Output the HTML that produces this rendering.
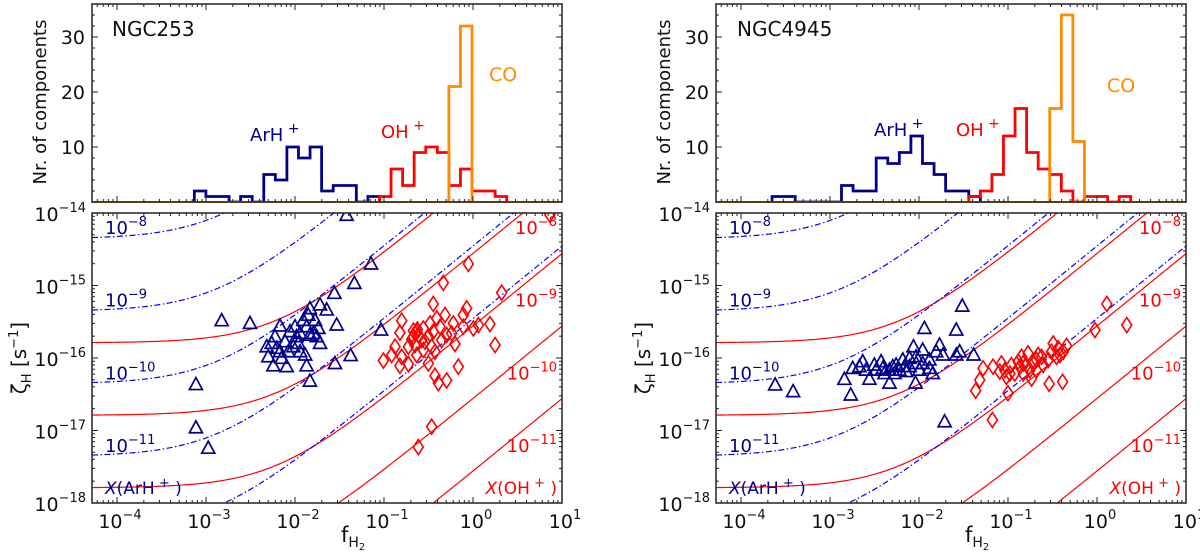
<!DOCTYPE html>
<html><head><meta charset="utf-8"><style>
html,body{margin:0;padding:0;background:#fff;overflow:hidden;width:1200px;height:556px;}
svg{display:block;font-family:"DejaVu Sans","Liberation Sans",sans-serif;}
</style></head><body>
<svg id="fig" width="1200" height="556" viewBox="0 0 1200 556" xmlns="http://www.w3.org/2000/svg"></svg>
<script>
// ---------- data ----------
const binWidth = 0.13; // dex
// NGC253 histograms (start = log10 fH2 of first bin edge)
const hA_blueStart = -3.131;
const hA_blue = [2,1,1,0,1,0,5,4,10,8,10,2,3,3,0,1];
const hA_redStart = -1.051;
const hA_red = [1,6,3,9,10,9,3,6,2,2,1];
const hA_orangeStart = -0.271;
const hA_orange = [21,32];
// NGC4945 histograms
const hB_blueStart = -3.651;
const hB_blue = [1,1,0,0,0,0,3,2,2,8,7,9,12,7,5,2,2,1];
const hB_redStart = -1.441;
const hB_red = [1,2,5,12,17,9,6,5,2,0,1,1,0,1];
const hB_orangeStart = -0.531;
const hB_orange = [17,34,11];

// model curves: zeta = X*(a + b*f)
const curveX = [1e-8,1e-9,1e-10,1e-11,1e-12];
const ohA = 1.62e-8, ohB = 2.75e-6;
const arA = 4.4e-7, arB = 3.5e-4;

// NGC253 ArH+ points
const sA_arF = [0.038,0.0714,0.0465,0.0277,0.0015,0.00312,0.00077,0.00077,0.00106,0.0925,0.0422,0.0281,0.0147,0.0135,0.0130,0.00806,0.00571,0.00501,0.00481,0.00596,0.00678,0.00879,0.0100,0.0114,0.0109,0.00841,0.00678,0.00622,0.0294,0.0191,0.0227,0.0147,0.0141,0.0168,0.0183,0.0161,0.0147,0.0135,0.0124,0.0191,0.0175,0.0104,0.00772,0.00958,0.0114,0.00547,0.00708];
const sA_arZ = [9.3e-15,1.98e-15,1.07e-15,7.8e-16,3.27e-16,3.0e-16,4.3e-17,1.09e-17,5.7e-18,2.43e-16,1.08e-16,8.4e-17,4.8e-17,7.8e-17,1.10e-16,7.6e-17,7.8e-17,1.04e-16,1.43e-16,1.97e-16,2.76e-16,2.31e-16,2.70e-16,2.19e-16,1.59e-16,1.22e-16,1.22e-16,1.36e-16,2.85e-16,5.4e-16,4.6e-16,4.8e-16,3.9e-16,3.3e-16,2.56e-16,2.19e-16,2.07e-16,2.70e-16,3.3e-16,1.59e-16,1.97e-16,1.97e-16,1.68e-16,1.43e-16,1.22e-16,1.59e-16,9.9e-17];
// NGC253 OH+ points
const sA_ohF = [0.887,0.464,2.10,0.358,0.158,0.151,0.233,0.214,0.849,0.778,0.485,0.391,0.601,0.329,0.277,0.358,0.426,0.506,0.315,0.265,0.223,0.188,0.133,0.122,0.0984,0.158,0.151,0.188,0.233,0.277,0.343,0.374,0.315,0.628,0.684,0.374,0.408,0.506,0.343,0.243,1.01,1.15,1.55,1.77,0.778,0.289,0.445,0.575,0.205,0.243,0.223,0.237,0.214,7.3];
const sA_ohZ = [1.98e-15,1.09e-15,7.96e-16,5.56e-16,3.27e-16,2.23e-16,2.31e-16,1.97e-16,4.84e-16,3.92e-16,3.92e-16,3.52e-16,3.0e-16,3.0e-16,2.56e-16,2.31e-16,2.70e-16,2.07e-16,1.97e-16,1.77e-16,1.51e-16,1.43e-16,1.43e-16,1.10e-16,9.2e-17,1.04e-16,7.8e-17,8.2e-17,1.10e-16,1.29e-16,1.43e-16,1.22e-16,8.4e-17,1.56e-16,7.6e-17,5.7e-17,4.5e-17,4.9e-17,1.13e-17,5.9e-18,2.56e-16,2.85e-16,2.94e-16,1.51e-16,2.70e-16,1.68e-16,1.77e-16,2.19e-16,1.81e-16,2.07e-16,2.19e-16,2.48e-16,2.38e-16,9.5e-15];
// NGC4945 ArH+ points
const sB_arF = [2.42e-4,3.85e-4,1.71e-3,1.45e-3,1.80e-3,2.33e-3,2.77e-3,4.66e-3,3.75e-3,3.15e-3,5.53e-3,6.57e-3,7.82e-3,9.29e-3,0.0110,8.67e-3,0.0115,0.0170,0.0186,0.0262,0.0306,0.0286,0.0262,0.0411,0.0194,9.14e-3,0.0131,0.0143,0.0101,7.16e-3,6.03e-3,4.66e-3,3.92e-3,3.29e-3,2.54e-3,2.14e-3,0.0156,0.0131,9.29e-3,7.82e-3,0.0110,5.30e-3,4.09e-3,6.87e-3,5.07e-3];
const sB_arZ = [4.25e-17,3.44e-17,3.09e-17,5.08e-17,7.2e-17,8.9e-17,5.1e-17,4.5e-17,8.9e-17,8.0e-17,8.0e-17,9.4e-17,7.6e-17,1.04e-16,1.29e-16,1.43e-16,2.56e-16,1.51e-16,1.10e-16,2.43e-16,5.2e-16,1.22e-16,1.10e-16,1.10e-16,1.32e-17,4.5e-17,7.2e-17,6.1e-17,6.8e-17,6.5e-17,6.8e-17,6.8e-17,7.2e-17,6.8e-17,6.8e-17,7.6e-17,1.22e-16,9.4e-17,8.4e-17,9.9e-17,8.4e-17,6.1e-17,6.1e-17,7.6e-17,7.6e-17];
// NGC4945 OH+ points
const sB_ohF = [1.29,2.16,0.949,0.455,0.322,0.383,0.218,0.168,0.148,0.105,0.100,0.0668,0.0433,0.0481,0.0524,0.0679,0.0844,0.0919,0.109,0.130,0.136,0.161,0.192,0.238,0.283,0.290,0.410,0.184,0.209,0.248,0.308,0.367,0.119,0.096,0.0807,0.148,0.176,0.351,0.418,0.142,0.209];
const sB_ohZ = [5.56e-16,2.85e-16,2.43e-16,1.47e-16,1.59e-16,1.10e-16,1.10e-16,1.16e-16,8.4e-17,6.1e-17,3.26e-17,1.40e-17,3.54e-17,4.97e-17,7.2e-17,7.6e-17,8.4e-17,6.8e-17,8.0e-17,8.9e-17,7.6e-17,8.0e-17,8.4e-17,1.04e-16,9.4e-17,4.4e-17,4.7e-17,5.2e-17,6.8e-17,8.0e-17,1.22e-16,1.36e-16,6.1e-17,5.5e-17,6.5e-17,6.1e-17,6.8e-17,1.04e-16,1.22e-16,1.04e-16,9.4e-17];

const xTickExp = [-4,-3,-2,-1,0,1];
const yTickExp = [-14,-15,-16,-17,-18];
const hTicks = [10,20,30];

// ---------- drawing ----------
const NS = "http://www.w3.org/2000/svg";
const svg = document.getElementById('fig');
function mk(tag, attrs, parent){
  const e = document.createElementNS(NS, tag);
  for (const k in attrs) e.setAttribute(k, attrs[k]);
  (parent||svg).appendChild(e);
  return e;
}
const NAVY = '#00008b', RED = '#ff0000', ORANGE = '#ff8c00', BLUE = '#0000ff';
const LMIN = -4.281, LMAX = 1.0;
const HT = 4, HB = 202, ST = 213, SB = 503, HMAX = 36;

function panel(ox, idx, name, hist, pts){
  const x0 = 92 + ox, x1 = 562 + ox;
  const xs = l => x0 + (l - LMIN) / (LMAX - LMIN) * (x1 - x0);
  const hy = v => HB - v / HMAX * (HB - HT);
  const zy = z => ST + (-14 - Math.log10(z)) / 4 * (SB - ST);
  const g = mk('g', {});
  
  
  const cid = 'clipS' + idx, hid = 'clipH' + idx;
  const defs = mk('defs', {}, g);
  const cp = mk('clipPath', {id: cid}, defs);
  mk('rect', {x: x0, y: ST, width: x1 - x0, height: SB - ST}, cp);
  const hp = mk('clipPath', {id: hid}, defs);
  mk('rect', {x: x0, y: HT, width: x1 - x0, height: HB - HT + 1}, hp);

  // ---- histogram ----
  const hg = mk('g', {'clip-path': 'url(#' + hid + ')'}, g);
  
  
  function step(start, counts, color, nm){
    let d = 'M' + xs(start) + ' ' + hy(0);
    counts.forEach((c, i) => {
      const a = xs(start + i * binWidth), b = xs(start + (i + 1) * binWidth);
      d += ' L' + a + ' ' + hy(c) + ' L' + b + ' ' + hy(c);
    });
    d += ' L' + xs(start + counts.length * binWidth) + ' ' + hy(0);
    const p = mk('path', {d: d, fill: 'none', stroke: color, 'stroke-width': 2.8, 'stroke-linejoin': 'miter'}, hg);
    
    
  }
  step(hist.bs, hist.b, NAVY, 'histogram-arh');
  step(hist.rs, hist.r, RED, 'histogram-oh');
  step(hist.os, hist.o, ORANGE, 'histogram-co');
  const bl = mk('line', {x1: x0, x2: x1, y1: hy(0), y2: hy(0), stroke: ORANGE, 'stroke-width': 2}, hg);
  
  

  // ---- curves ----
  const sg = mk('g', {'clip-path': 'url(#' + cid + ')'}, g);
  
  
  function curve(X, A, B, color, dash, nm){
    let d = '';
    for (let i = 0; i <= 240; i++) {
      const l = LMIN + (LMAX - LMIN) * i / 240;
      const z = X * (A + B * Math.pow(10, l));
      d += (i ? ' L' : 'M') + xs(l).toFixed(2) + ' ' + zy(z).toFixed(2);
    }
    const p = mk('path', {d: d, fill: 'none', stroke: color, 'stroke-width': 1.2}, sg);
    if (dash) p.setAttribute('stroke-dasharray', dash);
    
    
  }
  curveX.forEach(X => curve(X, ohA, ohB, RED, null, 'oh-abundance-curve'));
  curveX.forEach(X => curve(X, arA, arB, BLUE, '6,2.5,1.5,2.5', 'arh-abundance-curve'));

  // ---- markers ----
  pts.arF.forEach((f, i) => {
    const cx = xs(Math.log10(f)), cy = zy(pts.arZ[i]);
    const p = mk('path', {d: 'M' + cx + ' ' + (cy - 7) + ' L' + (cx + 6.5) + ' ' + (cy + 5) + ' L' + (cx - 6.5) + ' ' + (cy + 5) + ' Z', fill: 'none', stroke: NAVY, 'stroke-width': 1.7}, sg);
    
    
  });
  pts.ohF.forEach((f, i) => {
    const cx = xs(Math.log10(f)), cy = zy(pts.ohZ[i]);
    const p = mk('path', {d: 'M' + cx + ' ' + (cy - 7.5) + ' L' + (cx + 5) + ' ' + cy + ' L' + cx + ' ' + (cy + 7.5) + ' L' + (cx - 5) + ' ' + cy + ' Z', fill: 'none', stroke: RED, 'stroke-width': 1.6}, sg);
    
    
  });

  // ---- frames & ticks ----
  [[HT, HB, 'histogram-frame'], [ST, SB, 'scatter-frame']].forEach(([t, b, nm]) => {
    const r = mk('rect', {x: x0, y: t, width: x1 - x0, height: b - t, fill: 'none', stroke: '#222', 'stroke-width': 1.5}, g);
    
    
  });
  const tk = mk('g', {stroke: '#222', 'stroke-width': 1}, g);
  
  
  function xt(l, len){
    const x = xs(l);
    if (x < x0 || x > x1) return;
    [[HT, 1], [HB, -1], [ST, 1], [SB, -1]].forEach(([y, s]) => mk('line', {x1: x, x2: x, y1: y, y2: y + s * len}, tk));
  }
  for (let e = -5; e <= 1; e++) {
    xt(e, 6);
    for (let m = 2; m <= 9; m++) xt(e + Math.log10(m), 3);
  }
  function yt(y, len){
    mk('line', {x1: x0, x2: x0 + len, y1: y, y2: y}, tk);
    mk('line', {x1: x1, x2: x1 - len, y1: y, y2: y}, tk);
  }
  for (let v = 2; v < HMAX; v += 2) yt(hy(v), v % 10 === 0 ? 6 : 3);
  for (let e = -18; e <= -14; e++) {
    yt(zy(Math.pow(10, e)), 6);
    if (e < -14) for (let m = 2; m <= 9; m++) yt(zy(m * Math.pow(10, e)), 3);
  }

  // ---- tick labels ----
  hTicks.forEach(v => {
    const t = mk('text', {x: x0 - 7, y: hy(v) + 7, 'font-size': 19, 'text-anchor': 'end', fill: '#111'}, g);
    t.textContent = v;
    
    
  });
  yTickExp.forEach(e => {
    const t = mk('text', {x: x0 - 6, y: zy(Math.pow(10, e)) + 8, 'font-size': 19, 'text-anchor': 'end', fill: '#111'}, g);
    t.innerHTML = '10<tspan dy="-9" font-size="13">\u2212' + (-e) + '</tspan>';
    
    
  });
  xTickExp.forEach(e => {
    const t = mk('text', {x: xs(e) + 3, y: SB + 25, 'font-size': 19, 'text-anchor': 'middle', fill: '#111'}, g);
    t.innerHTML = '10<tspan dy="-9" font-size="13">' + (e < 0 ? '\u2212' + (-e) : e) + '</tspan>';
    
    
  });

  // ---- axis titles ----
  const ht = mk('text', {x: 0, y: 0, 'font-size': 18, 'text-anchor': 'middle', fill: '#111', transform: 'translate(' + (ox + 46) + ',102) rotate(-90)'}, g);
  ht.textContent = 'Nr.  of components';
  
  
  const zt = mk('text', {x: 0, y: 0, 'font-size': 20, 'text-anchor': 'middle', fill: '#111', transform: 'translate(' + (ox + 26) + ',358) rotate(-90)'}, g);
  zt.innerHTML = '\u03B6<tspan dy="5" font-size="13">H</tspan><tspan dy="-5"> [s</tspan><tspan dy="-8" font-size="13">\u22121</tspan><tspan dy="8">]</tspan>';
  
  
  const xt2 = mk('text', {x: xs(-1.45) - 3, y: 542, 'font-size': 21, fill: '#111'}, g);
  xt2.innerHTML = 'f<tspan dy="5" font-size="14">H</tspan><tspan dy="3" font-size="10">2</tspan>';
  
  

  // ---- annotations ----
  function lab(x, y, html, color, anchor, nm, size){
    const t = mk('text', {x: x, y: y, 'font-size': size || 18, fill: color, 'text-anchor': anchor || 'start'}, g);
    t.innerHTML = html;
    
    
  }
  lab(hist.nx, 36, name, '#111', 'start', 'galaxy-name', 20);
  lab(hist.ax, hist.ay, 'ArH<tspan dy="-8" font-size="14"> +</tspan>', NAVY, 'start', 'arh-histogram-label');
  lab(hist.px, hist.py, 'OH<tspan dy="-8" font-size="14"> +</tspan>', RED, 'start', 'oh-histogram-label');
  lab(hist.cx, hist.cy, 'CO', ORANGE, 'start', 'co-histogram-label', 19);
  const sup = e => '10<tspan dy="-8" font-size="13">\u2212' + e + '</tspan>';
  [8, 9, 10, 11].forEach((e, i) => {
    lab(x0 + 13, 234 + i * 72.7, sup(e), NAVY, 'start', 'arh-curve-label', 18);
    lab(x1 - 5, 234 + i * 72.7, sup(e), RED, 'end', 'oh-curve-label', 18);
  });
  lab(x0 + 13, 494, '<tspan font-style="italic">X</tspan>(ArH<tspan dy="-7" font-size="13"> +</tspan><tspan dy="7"> )</tspan>', NAVY, 'start', 'arh-abundance-label', 17);
  lab(x1 - 5, 494, '<tspan font-style="italic">X</tspan>(OH<tspan dy="-7" font-size="13"> +</tspan><tspan dy="7"> )</tspan>', RED, 'end', 'oh-abundance-label', 17);
}

panel(0, 0, 'NGC253',
  {bs: hA_blueStart, b: hA_blue, rs: hA_redStart, r: hA_red, os: hA_orangeStart, o: hA_orange,
   nx: 112, ax: 250, ay: 141, px: 381, py: 138, cx: 489, cy: 81},
  {arF: sA_arF, arZ: sA_arZ, ohF: sA_ohF, ohZ: sA_ohZ});
panel(624, 1, 'NGC4945',
  {bs: hB_blueStart, b: hB_blue, rs: hB_redStart, r: hB_red, os: hB_orangeStart, o: hB_orange,
   nx: 737, ax: 874, ay: 136, px: 956, py: 136, cx: 1107, cy: 92},
  {arF: sB_arF, arZ: sB_arZ, ohF: sB_ohF, ohZ: sB_ohZ});
</script>
</body></html>
